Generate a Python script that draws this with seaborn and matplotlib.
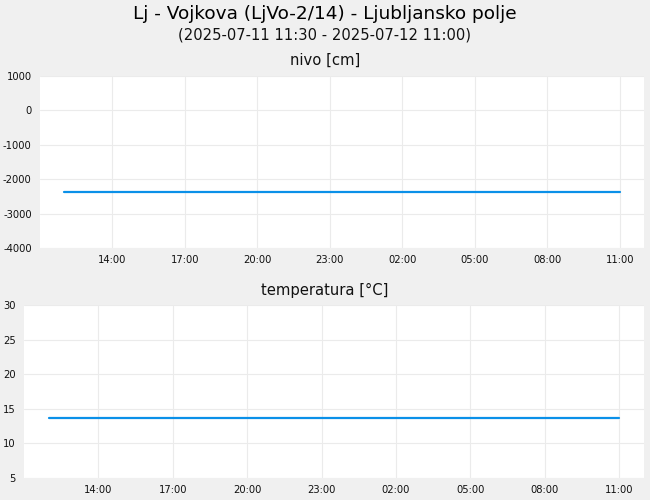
import matplotlib
matplotlib.use("Agg")
import matplotlib.pyplot as plt
import matplotlib.dates as mdates
import matplotlib.ticker as mticker
import seaborn as sns
import pandas as pd

# ---- data ----
times = ["2025-07-11 12:00", "2025-07-11 13:00", "2025-07-11 14:00", "2025-07-11 15:00",
         "2025-07-11 16:00", "2025-07-11 17:00", "2025-07-11 18:00", "2025-07-11 19:00",
         "2025-07-11 20:00", "2025-07-11 21:00", "2025-07-11 22:00", "2025-07-11 23:00",
         "2025-07-12 00:00", "2025-07-12 01:00", "2025-07-12 02:00", "2025-07-12 03:00",
         "2025-07-12 04:00", "2025-07-12 05:00", "2025-07-12 06:00", "2025-07-12 07:00",
         "2025-07-12 08:00", "2025-07-12 09:00", "2025-07-12 10:00", "2025-07-12 11:00"]
nivo = [-2385, -2385, -2385, -2385, -2385, -2385, -2385, -2385,
        -2385, -2385, -2385, -2385, -2385, -2385, -2385, -2385,
        -2385, -2385, -2385, -2385, -2385, -2385, -2385, -2385]
temperatura = [13.6, 13.6, 13.6, 13.6, 13.6, 13.6, 13.6, 13.6,
               13.6, 13.6, 13.6, 13.6, 13.6, 13.6, 13.6, 13.6,
               13.6, 13.6, 13.6, 13.6, 13.6, 13.6, 13.6, 13.6]
nivo_ticks = [-4000, -3000, -2000, -1000, 0, 1000]
temp_ticks = [5, 10, 15, 20, 25, 30]
x_ticks = ["2025-07-11 14:00", "2025-07-11 17:00", "2025-07-11 20:00", "2025-07-11 23:00",
           "2025-07-12 02:00", "2025-07-12 05:00", "2025-07-12 08:00", "2025-07-12 11:00"]
title = "Lj - Vojkova (LjVo-2/14) - Ljubljansko polje"
subtitle = "(2025-07-11 11:30 - 2025-07-12 11:00)"
title_nivo = "nivo [cm]"
title_temp = "temperatura [°C]"
x_start = "2025-07-11 11:00"
x_end = "2025-07-12 12:00"

df = pd.DataFrame({"time": pd.to_datetime(times), "nivo": nivo, "temperatura": temperatura})

sns.set_theme(style="white")
plt.rcParams["font.family"] = ["DejaVu Sans"]
plt.rcParams["axes.unicode_minus"] = False

bg = "#f0f0f0"
grid_c = "#ebebeb"
line_c = "#0a90e8"

fig = plt.figure(figsize=(6.5, 5), dpi=100, facecolor=bg)

ax1 = fig.add_axes([40 / 650, 1 - 248 / 500, 604 / 650, 172 / 500])
ax2 = fig.add_axes([24 / 650, 1 - 478 / 500, 620 / 650, 173 / 500])

for ax, col, yt in [(ax1, "nivo", nivo_ticks), (ax2, "temperatura", temp_ticks)]:
    ax.set_facecolor("white")
    sns.lineplot(data=df, x="time", y=col, ax=ax, color=line_c, linewidth=1.6)
    ax.set_xlim(pd.Timestamp(x_start), pd.Timestamp(x_end))
    ax.set_ylim(yt[0], yt[-1])
    ax.set_yticks(yt)
    ax.set_xticks(pd.to_datetime(x_ticks))
    ax.xaxis.set_major_formatter(mdates.DateFormatter("%H:%M"))
    ax.grid(True, color=grid_c, linewidth=0.8)
    ax.set_axisbelow(True)
    for s in ax.spines.values():
        s.set_visible(False)
    ax.tick_params(axis="both", length=0, labelsize=7.2, colors="#111111")
    ax.tick_params(axis="y", pad=6)
    ax.tick_params(axis="x", pad=5)
    ax.set_xlabel("")
    ax.set_ylabel("")

fig.text(0.5, 1 - 14 / 500, title, ha="center", va="center", fontsize=13.3, color="#000000")
fig.text(0.5, 1 - 35 / 500, subtitle, ha="center", va="center", fontsize=10.6, color="#111111")
fig.text(0.5, 1 - 60 / 500, title_nivo, ha="center", va="center", fontsize=10.6, color="#111111")
fig.text(0.5, 1 - 290 / 500, title_temp, ha="center", va="center", fontsize=10.6, color="#111111")

fig.savefig("out.png", dpi=100, facecolor=bg)
